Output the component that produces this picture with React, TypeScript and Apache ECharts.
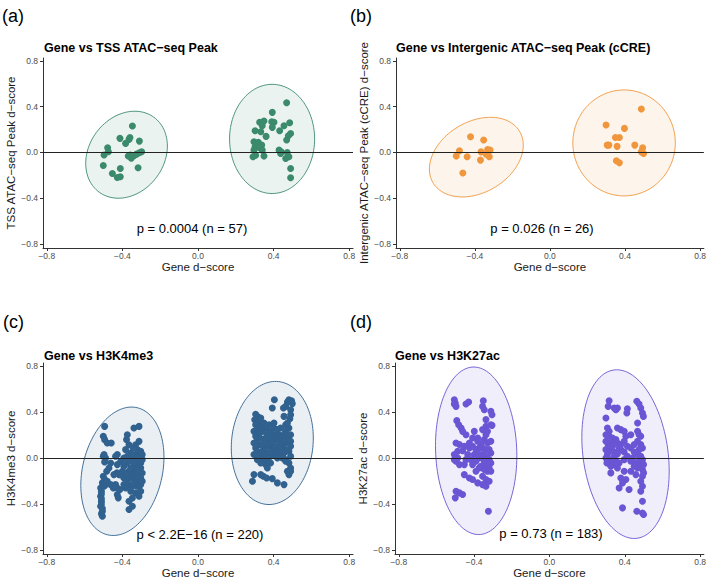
import React, { useEffect, useRef } from "react";
import * as echarts from "echarts";

// ---------- data (x = Gene d-score, y = other d-score) ----------
const tssNeg = [[-0.347,0.231],[-0.413,0.123],[-0.365,0.114],[-0.383,0.079],[-0.360,0.131],[-0.310,0.099],[-0.478,0.041],[-0.497,-0.023],[-0.474,0.006],[-0.369,-0.032],[-0.353,-0.050],[-0.339,-0.029],[-0.325,-0.015],[-0.310,-0.003],[-0.298,0.006],[-0.501,-0.114],[-0.411,-0.140],[-0.317,-0.134],[-0.453,-0.184],[-0.427,-0.219],[-0.411,-0.213],[-0.358,-0.023]];
const tssPos = [[0.469,0.434],[0.393,0.350],[0.326,0.263],[0.349,0.274],[0.390,0.268],[0.402,0.263],[0.485,0.259],[0.340,0.233],[0.393,0.219],[0.455,0.233],[0.302,0.189],[0.332,0.180],[0.432,0.189],[0.490,0.166],[0.478,0.145],[0.469,0.108],[0.296,0.093],[0.319,0.088],[0.337,0.064],[0.302,0.049],[0.323,0.044],[0.340,0.020],[0.296,0.020],[0.429,0.020],[0.437,-0.009],[0.472,0.000],[0.305,-0.024],[0.349,-0.032],[0.291,-0.038],[0.464,-0.053],[0.481,-0.038],[0.490,-0.140],[0.490,-0.222],[0.360,0.140],[0.440,0.005]];

const ccreNeg = [[-0.423,0.137],[-0.353,0.108],[-0.482,0.014],[-0.499,-0.032],[-0.441,-0.038],[-0.367,0.005],[-0.332,0.026],[-0.319,0.020],[-0.340,-0.015],[-0.323,-0.038],[-0.370,-0.067],[-0.464,-0.179]];
const ccrePos = [[0.487,0.379],[0.299,0.239],[0.397,0.210],[0.349,0.131],[0.370,0.131],[0.305,0.064],[0.314,0.064],[0.358,0.053],[0.452,0.064],[0.494,0.040],[0.487,0.005],[0.499,-0.009],[0.354,-0.073],[0.370,-0.091]];

const k4Neg = [[-0.494,0.274],[-0.501,0.188],[-0.494,0.159],[-0.480,0.130],[-0.501,0.014],[-0.489,0.000],[-0.494,-0.035],[-0.471,-0.087],[-0.483,-0.116],[-0.501,-0.160],[-0.494,-0.188],[-0.506,-0.217],[-0.497,-0.246],[-0.489,-0.232],[-0.511,-0.290],[-0.515,-0.333],[-0.511,-0.377],[-0.515,-0.420],[-0.506,-0.463],[-0.506,-0.507],[-0.515,-0.261],[-0.511,-0.313],[-0.511,-0.353],[-0.511,-0.400],[-0.506,-0.440],[-0.511,-0.486],[-0.497,0.029],
[-0.459,0.130],[-0.427,0.029],[-0.436,0.014],[-0.427,-0.058],[-0.480,-0.203],[-0.462,-0.232],[-0.448,-0.261],[-0.429,-0.130],[-0.418,-0.145],[-0.436,-0.232],[-0.427,-0.261],[-0.413,-0.275],[-0.427,-0.319],[-0.422,-0.347],[-0.462,-0.044],[-0.445,-0.145],
[-0.339,0.260],[-0.312,0.274],[-0.374,0.202],[-0.378,0.159],[-0.365,0.115],[-0.383,0.072],[-0.356,0.043],[-0.330,0.029],[-0.312,0.043],[-0.303,0.014],[-0.330,0.115],[-0.312,0.144],[-0.321,0.072],[-0.374,0.014],[-0.392,0.000],[-0.374,-0.044],[-0.347,-0.029],[-0.321,-0.015],[-0.303,-0.044],[-0.339,-0.073],[-0.312,-0.081],[-0.400,-0.116],[-0.383,-0.131],[-0.365,-0.116],[-0.347,-0.131],[-0.330,-0.116],[-0.312,-0.145],[-0.295,-0.131],[-0.392,-0.174],[-0.374,-0.188],[-0.356,-0.174],[-0.339,-0.188],[-0.321,-0.203],[-0.303,-0.174],[-0.365,-0.232],[-0.347,-0.246],[-0.321,-0.246],[-0.303,-0.232],[-0.356,-0.290],[-0.330,-0.304],[-0.347,-0.348],[-0.365,-0.377],[-0.347,-0.420],[-0.365,-0.449],[-0.303,-0.087],[-0.356,-0.087],[-0.392,-0.073],[-0.409,-0.029],[-0.303,0.058],[-0.343,0.086],[-0.295,-0.015],[-0.374,-0.145],[-0.330,-0.160],[-0.409,-0.145],[-0.303,-0.290],[-0.312,-0.333],[-0.383,-0.261],
[-0.392,-0.044],[-0.295,0.029],[-0.347,0.014],[-0.365,-0.015],[-0.330,-0.044],[-0.356,-0.145],[-0.321,-0.102],[-0.295,-0.203],[-0.339,-0.232],[-0.392,-0.232]];
const k4Pos = [[0.481,0.506],[0.495,0.496],[0.473,0.486],[0.499,0.472],[0.404,0.506],[0.464,0.448],[0.452,0.434],[0.393,0.434],[0.490,0.419],[0.490,0.376],[0.486,0.341],
[0.305,0.380],[0.314,0.361],[0.300,0.332],[0.323,0.318],[0.305,0.289],[0.314,0.260],[0.296,0.231],[0.323,0.217],[0.305,0.188],[0.314,0.159],[0.296,0.130],[0.323,0.115],[0.305,0.086],[0.314,0.058],[0.332,0.029],[0.296,0.029],[0.332,0.274],[0.328,0.173],
[0.349,0.303],[0.376,0.289],[0.358,0.260],[0.402,0.260],[0.384,0.231],[0.420,0.246],[0.367,0.202],[0.393,0.188],[0.429,0.202],[0.349,0.159],[0.376,0.144],[0.411,0.159],[0.437,0.144],[0.358,0.101],[0.384,0.086],[0.420,0.101],[0.446,0.115],[0.367,0.043],[0.402,0.029],[0.429,0.058],[0.455,0.043],[0.393,0.130],[0.346,0.072],[0.420,0.000],[0.446,0.000],[0.464,0.289],[0.464,0.231],[0.473,0.173],[0.464,0.130],[0.481,0.260],[0.490,0.202],[0.490,0.144],[0.490,0.101],[0.481,0.058],[0.490,0.014],[0.464,0.072],[0.384,0.014],[0.437,0.260],[0.402,0.303],[0.455,0.361],[0.473,0.303],
[0.349,-0.029],[0.367,-0.015],[0.384,-0.044],[0.358,-0.058],[0.367,-0.087],[0.464,-0.029],[0.481,-0.044],[0.490,-0.087],[0.473,-0.116],[0.481,-0.145],[0.490,-0.116],[0.296,-0.145],[0.288,-0.203],[0.332,-0.145],[0.346,-0.160],[0.363,-0.174],[0.393,-0.180],[0.420,-0.217],[0.455,-0.232],[0.340,0.000],[0.376,0.014],[0.314,-0.015],[0.332,-0.044],
[0.332,0.347],[0.340,0.231],[0.358,0.173],[0.376,0.217],[0.402,0.202],[0.420,0.173],[0.437,0.188],[0.446,0.159],[0.455,0.202],[0.340,0.115],[0.402,0.072],[0.429,0.014],[0.349,0.029],[0.323,0.000],[0.384,0.058],[0.446,0.072],[0.464,-0.015]];

const k27Neg = [[-0.505,0.506],[-0.500,0.477],[-0.496,0.448],[-0.505,0.469],[-0.443,0.469],[-0.429,0.486],[-0.351,0.497],[-0.355,0.448],[-0.346,0.419],[-0.311,0.405],[-0.305,0.376],[-0.492,0.324],[-0.482,0.289],[-0.469,0.260],[-0.337,0.333],[-0.337,0.275],[-0.305,0.283],[-0.355,0.246],[-0.329,0.231],[-0.443,0.202],[-0.408,0.173],[-0.381,0.173],[-0.461,0.231],[-0.496,0.130],[-0.478,0.116],[-0.452,0.101],[-0.425,0.130],[-0.381,0.145],[-0.346,0.159],[-0.329,0.130],[-0.311,0.145],[-0.373,0.087],[-0.390,0.072],[-0.487,0.058],[-0.461,0.063],[-0.425,0.087],[-0.408,0.101],[-0.505,0.029],[-0.487,0.000],[-0.496,-0.029],[-0.478,-0.058],[-0.452,-0.058],[-0.355,0.029],[-0.337,0.014],[-0.320,-0.015],[-0.346,-0.029],[-0.329,-0.058],[-0.311,-0.044],[-0.373,0.000],[-0.390,-0.029],[-0.408,-0.058],[-0.443,-0.015],[-0.373,-0.087],[-0.346,-0.101],[-0.329,-0.116],[-0.311,-0.116],[-0.452,-0.145],[-0.425,-0.174],[-0.408,-0.188],[-0.355,-0.159],[-0.337,-0.188],[-0.320,-0.203],[-0.381,-0.217],[-0.355,-0.232],[-0.337,-0.246],[-0.496,-0.290],[-0.478,-0.304],[-0.461,-0.318],[-0.500,-0.347],[-0.324,-0.463],[-0.364,-0.073],[-0.390,-0.116],[-0.399,0.029],[-0.434,0.029],[-0.337,0.072],[-0.320,0.072],[-0.364,0.116],[-0.311,0.043],[-0.399,0.231],[-0.505,-0.015],[-0.337,-0.058],[-0.355,0.087],[-0.320,-0.087],[-0.381,0.043],[-0.417,-0.015],[-0.337,0.202],[-0.311,0.289]];
const k27Pos = [[0.317,0.497],[0.312,0.448],[0.344,0.434],[0.361,0.434],[0.414,0.428],[0.411,0.390],[0.464,0.492],[0.476,0.469],[0.485,0.434],[0.494,0.390],[0.499,0.361],[0.300,0.347],[0.308,0.260],[0.317,0.231],[0.361,0.260],[0.379,0.246],[0.397,0.231],[0.300,0.202],[0.317,0.188],[0.335,0.173],[0.353,0.159],[0.300,0.145],[0.312,0.116],[0.326,0.130],[0.361,0.130],[0.379,0.116],[0.397,0.145],[0.414,0.101],[0.432,0.087],[0.468,0.231],[0.476,0.202],[0.485,0.188],[0.468,0.145],[0.485,0.116],[0.300,0.072],[0.317,0.063],[0.344,0.052],[0.361,0.035],[0.397,0.052],[0.379,0.072],[0.450,0.052],[0.468,0.029],[0.485,0.014],[0.300,0.000],[0.317,-0.015],[0.335,-0.029],[0.353,-0.023],[0.370,-0.044],[0.397,-0.015],[0.432,-0.029],[0.459,-0.044],[0.476,-0.029],[0.494,-0.015],[0.485,-0.058],[0.468,-0.087],[0.494,-0.101],[0.500,-0.130],[0.494,-0.159],[0.326,-0.130],[0.379,-0.174],[0.406,-0.188],[0.388,-0.217],[0.370,-0.261],[0.423,-0.275],[0.485,-0.203],[0.494,-0.246],[0.485,-0.290],[0.494,-0.376],[0.388,-0.434],[0.464,-0.463],[0.494,-0.478],[0.500,-0.492],[0.305,-0.044],[0.326,-0.073],[0.344,-0.058],[0.361,-0.087],[0.397,-0.116],[0.432,-0.116],[0.459,-0.145],[0.344,0.014],[0.414,0.014],[0.441,0.000],[0.326,0.101],[0.406,0.188],[0.450,0.116],[0.308,0.029],[0.335,0.101],[0.370,0.087],[0.494,0.087],[0.476,0.072],[0.500,-0.058],[0.450,-0.073],[0.468,0.304],[0.432,0.202],[0.353,0.419]];

// ellipse parameters: [centre x, centre y, half-width x, half-height y, correlation]
const tssEllipses = [[-0.378,-0.02,0.216,0.38,0.2],[0.392,0.118,0.225,0.477,0.0]];
const ccreEllipses = [[-0.392,-0.041,0.25,0.348,0.3],[0.395,0.083,0.273,0.463,0.0]];
const k4Ellipses = [[-0.40,-0.116,0.22,0.558,0.22],[0.393,0.13,0.217,0.535,0.08]];
const k27Ellipses = [[-0.389,0.062,0.216,0.728,-0.06],[0.404,0.033,0.232,0.733,-0.2]];

const tickValues = [-0.8, -0.4, 0, 0.4, 0.8];
const panelLabels = ["(a)", "(b)", "(c)", "(d)"];
const panelTitles = ["Gene vs TSS ATAC\u2212seq Peak", "Gene vs Intergenic ATAC\u2212seq Peak (cCRE)", "Gene vs H3K4me3", "Gene vs H3K27ac"];
const yTitles = ["TSS ATAC\u2212seq Peak d\u2212score", "Intergenic ATAC\u2212seq Peak (cCRE) d\u2212score", "H3K4me3 d\u2212score", "H3K27ac d\u2212score"];
const xTitle = "Gene d\u2212score";
const pTexts = ["p = 0.0004 (n = 57)", "p = 0.026 (n = 26)", "p < 2.2E\u221216 (n = 220)", "p = 0.73 (n = 183)"];
const colors = ["#3b8a6c", "#f0963c", "#30618f", "#6a55d4"];

const FONT = "'Liberation Sans', Arial, Helvetica, sans-serif";

const grids = [
  { left: 43, top: 58, width: 310, height: 190 },
  { left: 396, top: 58, width: 310, height: 190 },
  { left: 43, top: 363, width: 310, height: 191 },
  { left: 395, top: 363, width: 310, height: 191 },
];
const labelPos = [[2, 17], [350, 17], [3, 323], [350, 323]];
const titlePos = [[44, 41], [396, 41], [44, 349], [395, 349]];
const pPos = [[192, 228], [542, 228], [200, 534], [551, 533]];

const fmt = (v: number) => {
  if (Math.abs(v) < 1e-9) return "0.0";
  return (v < 0 ? "\u2212" : "") + Math.abs(v).toFixed(1);
};

function ellipseSeries(params: number[][], gi: number, fill: string, stroke: string) {
  return {
    type: "custom",
    xAxisIndex: gi,
    yAxisIndex: gi,
    z: 1,
    silent: true,
    data: params,
    renderItem: (_p: any, api: any) => {
      const cx = api.value(0), cy = api.value(1), sx = api.value(2), sy = api.value(3), r = api.value(4);
      const q = Math.sqrt(1 - r * r);
      const pts: number[][] = [];
      for (let i = 0; i < 120; i++) {
        const t = (2 * Math.PI * i) / 120;
        pts.push(api.coord([cx + sx * Math.cos(t), cy + sy * (r * Math.cos(t) + q * Math.sin(t))]));
      }
      return { type: "polygon", shape: { points: pts }, style: { fill, stroke, lineWidth: 0.9 } };
    },
  };
}

export default function App() {
  const ref = useRef<HTMLDivElement>(null);
  useEffect(() => {
    document.body.style.margin = "0";
    if (!ref.current) return;
    const chart = echarts.init(ref.current, undefined, { renderer: "svg" });
    const panels = [
      [tssNeg, tssPos, tssEllipses],
      [ccreNeg, ccrePos, ccreEllipses],
      [k4Neg, k4Pos, k4Ellipses],
      [k27Neg, k27Pos, k27Ellipses],
    ];
    const series: any[] = [];
    panels.forEach((p, i) => {
      const col = colors[i];
      const fill = echarts.color.modifyAlpha(col, 0.1);
      series.push(ellipseSeries(p[2] as number[][], i, fill, col));
      series.push({
        type: "scatter",
        xAxisIndex: i,
        yAxisIndex: i,
        z: 3,
        symbolSize: 7,
        itemStyle: { color: col, opacity: 1 },
        data: [...(p[0] as number[][]), ...(p[1] as number[][])],
        markLine: {
          silent: true,
          symbol: "none",
          label: { show: false },
          lineStyle: { color: "#222", width: 1, type: "solid" },
          data: [{ yAxis: 0 }],
        },
      });
    });

    const axisCommon = {
      type: "value",
      splitLine: { show: false },
      axisLine: { show: true, onZero: false, lineStyle: { color: "#333", width: 1 } },
      axisTick: { show: true, length: 3, customValues: tickValues, lineStyle: { color: "#333" } },
    };

    chart.setOption({
      animation: false,
      backgroundColor: "#fff",
      grid: grids,
      title: panelTitles.map((t, i) => ({
        text: t,
        left: titlePos[i][0],
        top: titlePos[i][1],
        padding: 0,
        textStyle: { fontSize: 12.5, fontWeight: "bold", color: "#000", fontFamily: FONT },
      })),
      xAxis: grids.map((_, i) => ({
        ...axisCommon,
        gridIndex: i,
        min: -0.82,
        max: 0.82,
        axisLabel: { customValues: tickValues, formatter: fmt, fontSize: 8.5, color: "#4d4d4d", margin: 3, fontFamily: FONT },
        name: xTitle,
        nameLocation: "middle",
        nameGap: 12,
        nameTextStyle: { fontSize: 11.5, color: "#1a1a1a", fontFamily: FONT },
      })),
      yAxis: grids.map((_, i) => ({
        ...axisCommon,
        gridIndex: i,
        min: -0.835,
        max: 0.825,
        axisLabel: { customValues: tickValues, formatter: fmt, fontSize: 8.5, color: "#4d4d4d", margin: 5, fontFamily: FONT },
        name: yTitles[i],
        nameLocation: "middle",
        nameGap: 24,
        nameTextStyle: { fontSize: 11.5, color: "#1a1a1a", fontFamily: FONT },
      })),
      graphic: [
        ...panelLabels.map((t, i) => ({
          type: "text",
          left: labelPos[i][0],
          top: labelPos[i][1] - 10,
          style: { text: t, fontSize: 18, fill: "#000", fontFamily: FONT },
        })),
        ...pTexts.map((t, i) => ({
          type: "text",
          x: pPos[i][0],
          y: pPos[i][1],
          style: { text: t, fontSize: 13, fill: "#000", fontFamily: FONT, textAlign: "center", textVerticalAlign: "middle" },
        })),
      ],
      series,
    });
    return () => chart.dispose();
  }, []);
  return <div ref={ref} style={{ width: 709, height: 580 }} />;
}
